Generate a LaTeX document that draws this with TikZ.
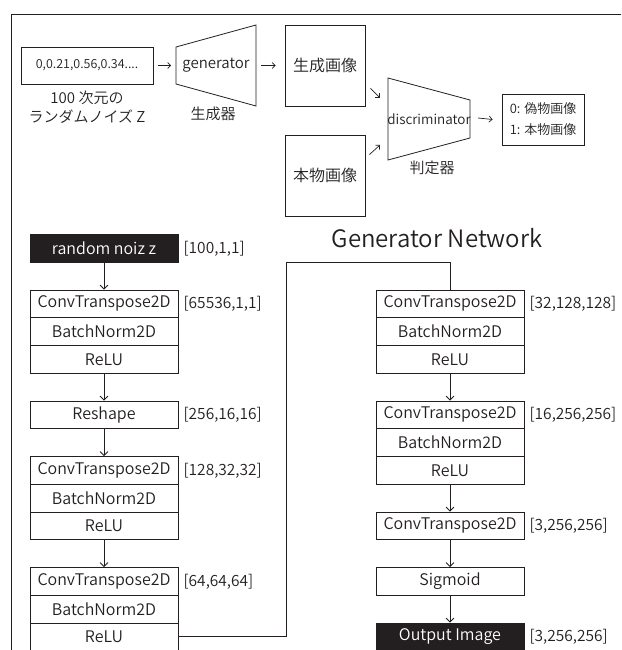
\documentclass[tikz,border=0pt]{standalone}
\usepackage{fontspec}
\setmainfont{Noto Sans CJK JP}[UprightFont=* DemiLight]
\usetikzlibrary{arrows.meta}
\definecolor{ink}{RGB}{35,31,32}
\tikzset{
  x=1pt, y=-1pt,
  rule/.style={draw=ink, line width=0.8pt},
  box/.style={draw=ink, line width=0.8pt, minimum width=148pt, minimum height=27.75pt,
    inner sep=0pt, text=ink, font=\fontsize{16}{18}\selectfont},
  darkbox/.style={box, fill=ink, text=white},
  dims/.style={anchor=west, inner sep=0pt, text=ink, font=\fontsize{15.5}{18}\selectfont},
  caption/.style={inner sep=0pt, text=ink, align=center, font=\fontsize{15}{19}\selectfont},
  flow/.style={draw=ink, line width=0.8pt, -{Straight Barb[length=4pt,width=8pt]}},
  glyph/.style={draw=ink, line width=0.7pt, -{Straight Barb[length=3pt,width=6pt]}},
}
\begin{document}
\begin{tikzpicture}
\useasboundingbox (0,0) rectangle (621,650);
\clip (0,0) rectangle (621,650);

% outer frame
\draw[rule] (11,660) -- (11,14) -- (630,14);

% ---------- GAN overview ----------
\node[draw=ink, line width=0.8pt, minimum width=132pt, minimum height=37pt, inner sep=0pt,
  text=ink, font=\fontsize{12.5}{15}\selectfont] (noisevec) at (87,65.5) {0,0.21,0.56,0.34....};
\node[caption] (noisecap) at (87,107.5) {100 次元の\\ランダムノイズ Z};

% generator trapezoid
\coordinate (g1) at (176,47);
\coordinate (g2) at (256,25);
\coordinate (g3) at (256,106);
\coordinate (g4) at (176,84);
\draw[rule] (g1) -- (g2) -- (g3) -- (g4) -- cycle;
\coordinate (gin) at (176,65.5);
\coordinate (gout) at (256,65.5);
\node[caption] (gen) at (216,65.5) {generator};
\node[caption] (gencap) at (213,114) {生成器};

% image boxes
\node[draw=ink, line width=0.8pt, minimum width=80pt, minimum height=81pt, inner sep=0pt,
  text=ink, font=\fontsize{16}{18}\selectfont] (fake) at (325,65.5) {生成画像};
\node[draw=ink, line width=0.8pt, minimum width=80pt, minimum height=81pt, inner sep=0pt,
  text=ink, font=\fontsize{16}{18}\selectfont] (real) at (325,175.5) {本物画像};

% discriminator trapezoid
\coordinate (d1) at (388,78);
\coordinate (d2) at (470,100);
\coordinate (d3) at (470,138);
\coordinate (d4) at (388,160);
\draw[rule] (d1) -- (d2) -- (d3) -- (d4) -- cycle;
\coordinate (dout) at (470,118);
\node[caption, font=\fontsize{13.5}{16}\selectfont] (disc) at (429,119) {discriminator};
\node[caption] (disccap) at (432,168) {判定器};

% verdict box
\node[draw=ink, line width=0.8pt, minimum width=82pt, minimum height=51pt, inner sep=0pt,
  text=ink, align=left, font=\fontsize{13}{21}\selectfont] (verdict) at (543,119.5)
  {0: 偽物画像\\1: 本物画像};

% small arrows
\draw[glyph] ([xshift=5pt]noisevec.east) -- ([xshift=-5pt]gin);
\draw[glyph] ([xshift=5pt]gout) -- ([xshift=-9pt]fake.west);
\draw[glyph] ([shift={(5,-18)}]fake.south east) -- ([shift={(-8,20)}]d1);
\draw[glyph] ([shift={(4,20)}]real.north east) -- ([shift={(-8,-15)}]d4);
\draw[glyph] ([xshift=8pt]dout) -- ([xshift=-9pt]verdict.west);

% ---------- Generator network ----------
\node[text=ink, inner sep=0pt, font=\fontsize{24}{28}\selectfont] (title) at (437,238) {Generator Network};

% left column
\node[darkbox] (noise) at (104,248.375) {random noiz z};
\node[dims] at ([xshift=5pt]noise.east) {[100,1,1]};

\node[box] (ct1) at (104,303.875) {ConvTranspose2D};
\node[box] (bn1) at (104,331.625) {BatchNorm2D};
\node[box] (re1) at (104,359.375) {ReLU};
\node[dims] at ([xshift=5pt]ct1.east) {[65536,1,1]};

\node[box] (rs) at (104,414.875) {Reshape};
\node[dims] at ([xshift=5pt]rs.east) {[256,16,16]};

\node[box] (ct2) at (104,470.375) {ConvTranspose2D};
\node[box] (bn2) at (104,498.125) {BatchNorm2D};
\node[box] (re2) at (104,525.875) {ReLU};
\node[dims] at ([xshift=5pt]ct2.east) {[128,32,32]};

\node[box] (ct3) at (104,581.375) {ConvTranspose2D};
\node[box] (bn3) at (104,609.125) {BatchNorm2D};
\node[box] (re3) at (104,636.875) {ReLU};
\node[dims] at ([xshift=5pt]ct3.east) {[64,64,64]};

% right column
\node[box] (ct4) at (450,303.875) {ConvTranspose2D};
\node[box] (bn4) at (450,331.625) {BatchNorm2D};
\node[box] (re4) at (450,359.375) {ReLU};
\node[dims] at ([xshift=5pt]ct4.east) {[32,128,128]};

\node[box] (ct5) at (450,414.875) {ConvTranspose2D};
\node[box] (bn5) at (450,442.625) {BatchNorm2D};
\node[box] (re5) at (450,470.375) {ReLU};
\node[dims] at ([xshift=5pt]ct5.east) {[16,256,256]};

\node[box] (ct6) at (450,525.875) {ConvTranspose2D};
\node[dims] at ([xshift=5pt]ct6.east) {[3,256,256]};

\node[box] (sig) at (450,581.375) {Sigmoid};

\node[darkbox] (img) at (450,636.875) {Output Image};
\node[dims] at ([xshift=5pt]img.east) {[3,256,256]};

% connectors
\draw[flow] (noise.south) -- (ct1.north);
\draw[flow] (re1.south) -- (rs.north);
\draw[flow] (rs.south) -- (ct2.north);
\draw[flow] (re2.south) -- (ct3.north);
\coordinate (bend) at (286,262.25);
\draw[rule] (re3.east) -| (bend) -| (ct4.north);
\draw[flow] (re4.south) -- (ct5.north);
\draw[flow] (re5.south) -- (ct6.north);
\draw[flow] (ct6.south) -- (sig.north);
\draw[flow] (sig.south) -- (img.north);
\end{tikzpicture}
\end{document}
